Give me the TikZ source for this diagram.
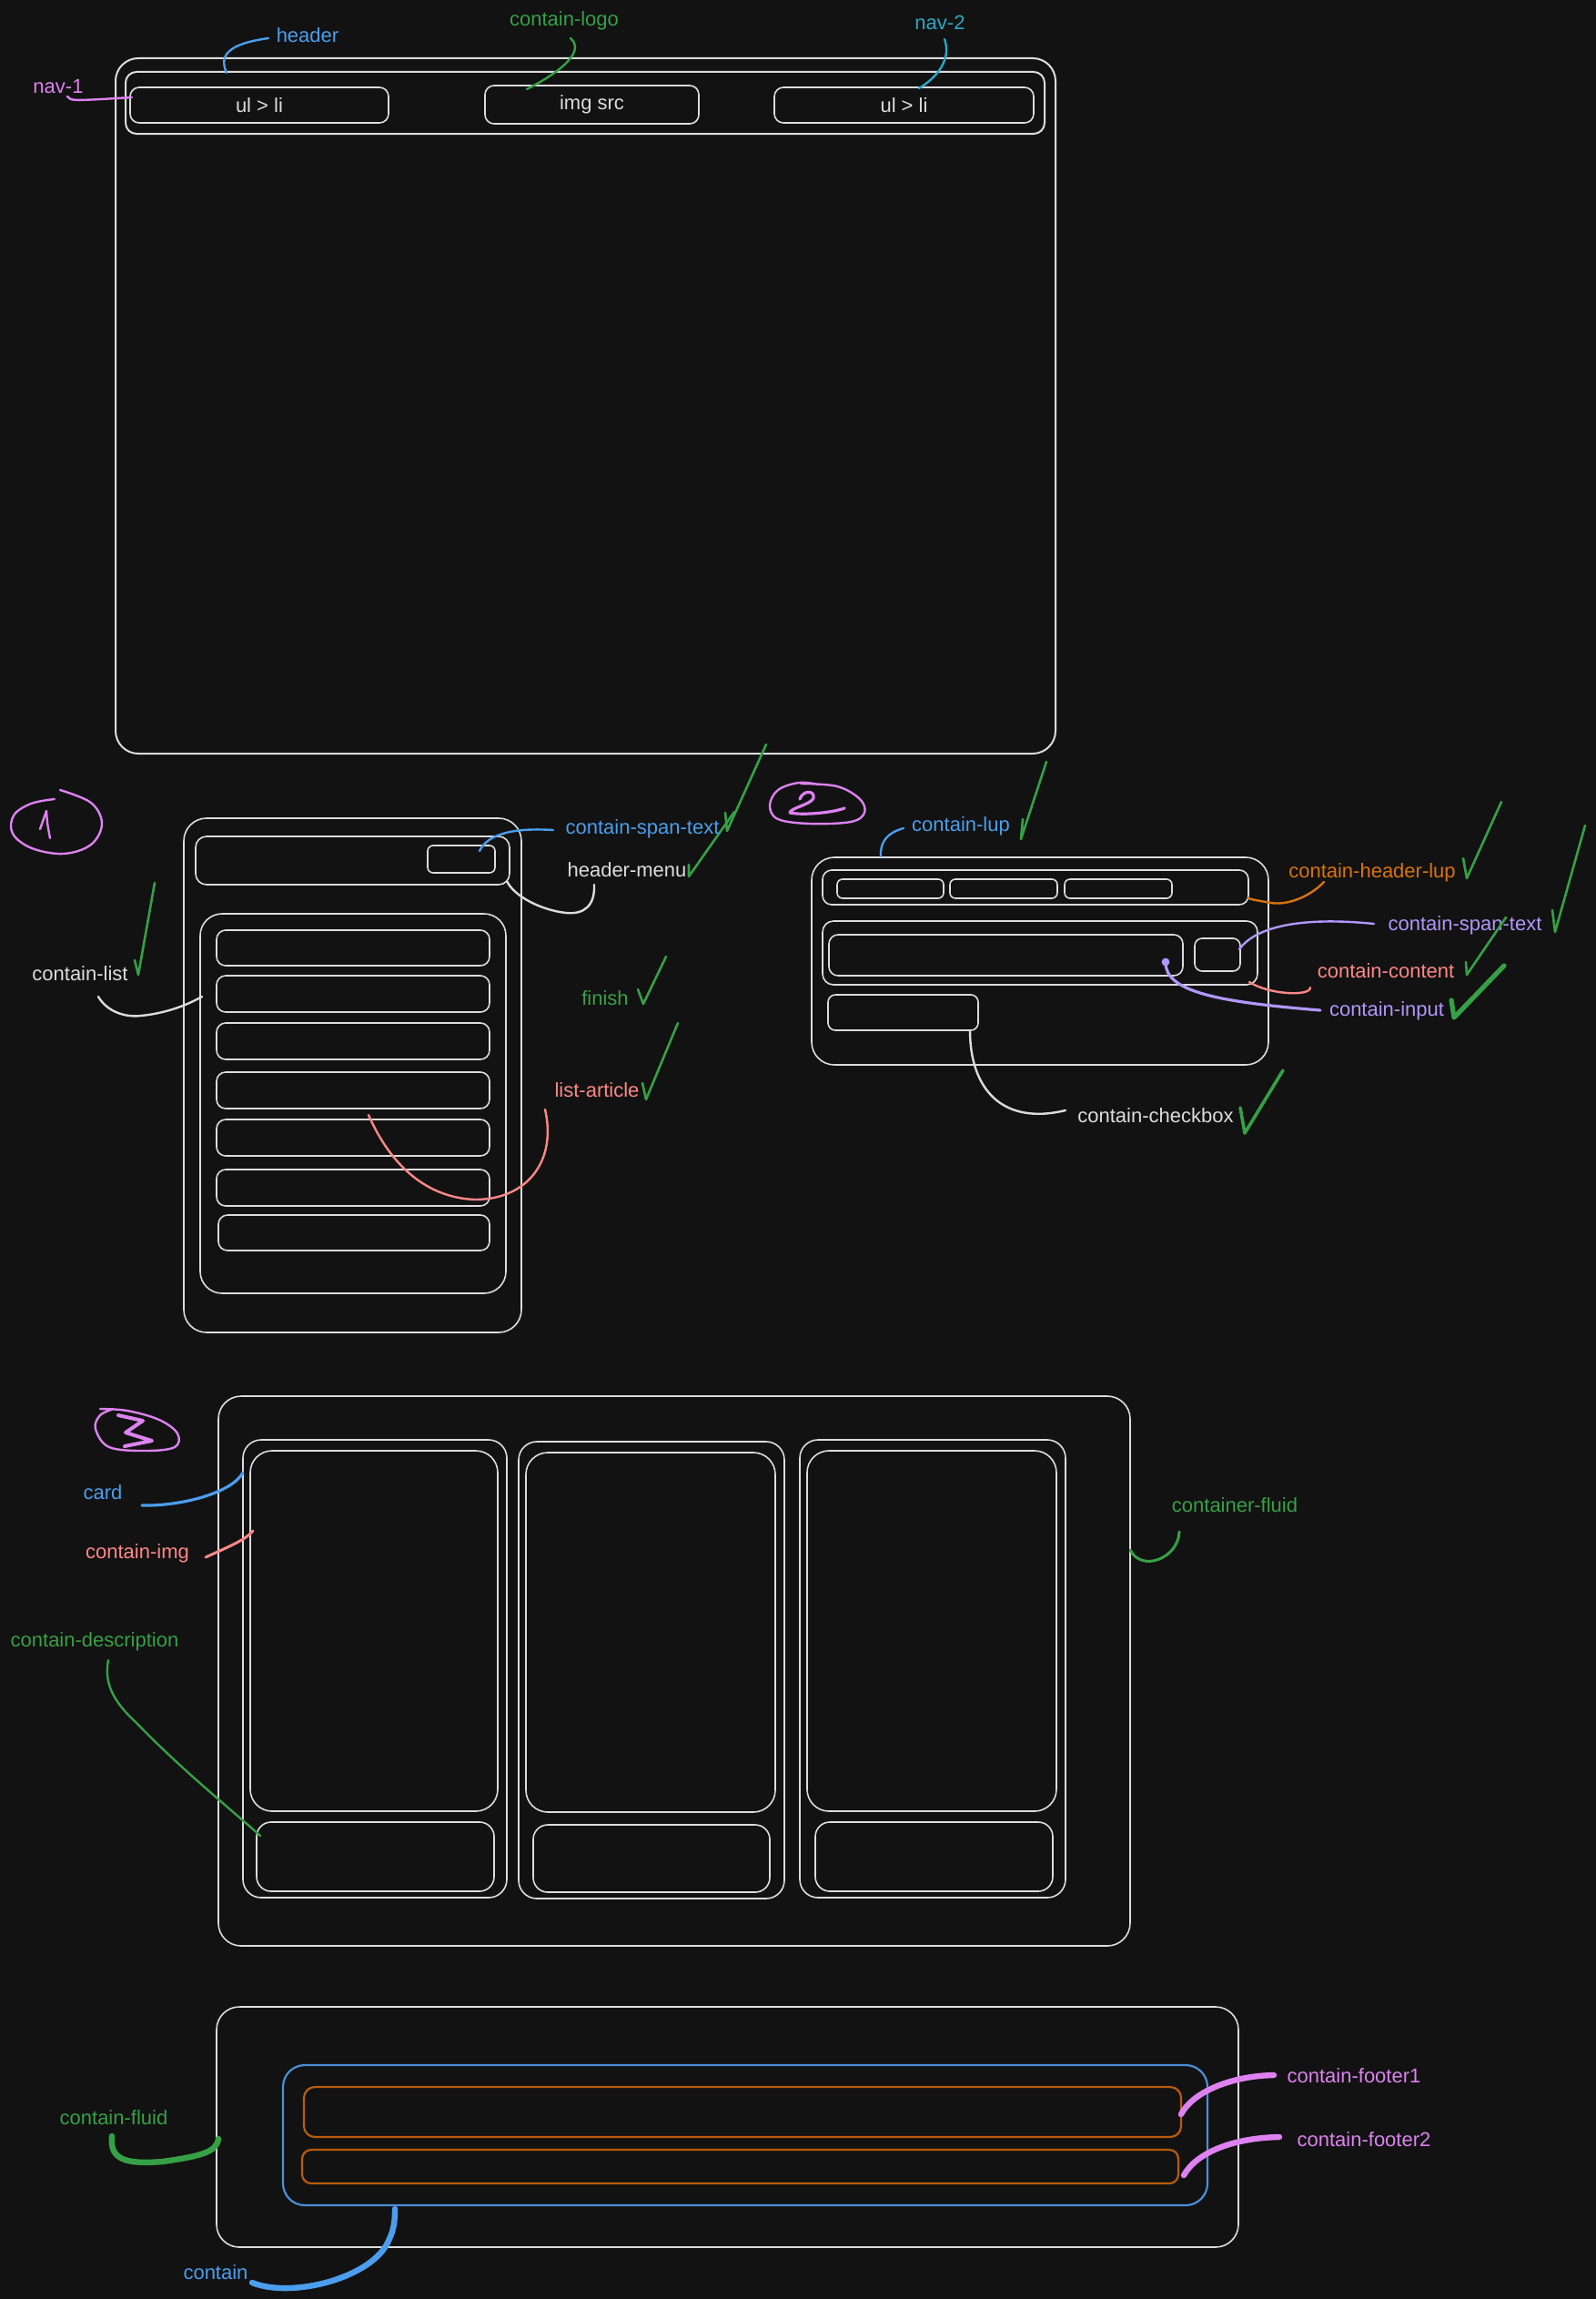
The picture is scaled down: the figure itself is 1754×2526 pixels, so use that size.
\documentclass[tikz,border=0pt]{standalone}
\usepackage{fontspec}
\setmainfont{Liberation Sans}
\usetikzlibrary{fit}
\definecolor{bgc}{HTML}{121212}
\definecolor{wl}{HTML}{DCDCDC}
\definecolor{cblue}{HTML}{4A9EED}
\definecolor{cbluebox}{HTML}{4A8FD6}
\definecolor{cgreen}{HTML}{36A046}
\definecolor{cpink}{HTML}{DD82F0}
\definecolor{cteal}{HTML}{2BA7C4}
\definecolor{csalmon}{HTML}{FF8787}
\definecolor{corange}{HTML}{D9730D}
\definecolor{corangebox}{HTML}{B85C0A}
\definecolor{cpurple}{HTML}{B197FC}
\begin{document}
\begin{tikzpicture}[x=0.5pt,y=-0.5pt,
  box/.style={draw=wl, line width=0.8pt, rounded corners=#1, inner sep=0pt},
  box/.default=5pt,
  intext/.style={text=wl, font=\fontsize{11}{13}\selectfont, inner sep=1pt},
  lbl/.style={font=\fontsize{11}{13}\selectfont, inner sep=1pt},
  conn/.style={line width=1.2pt, line cap=round, line join=round},
  thick conn/.style={line width=3.2pt, line cap=round, line join=round},
  chk/.style={draw=cgreen, line width=1.3pt, line cap=round, line join=round},
  numc/.style={draw=cpink, line width=1.2pt, line cap=round, line join=round}]
\fill[bgc] (0,0) rectangle (1754,2526);
\useasboundingbox (0,0) rectangle (1754,2526);

% ===== Section: header =====
\node[box=12.5pt, line width=1pt, fit={(127,64) (1160,828)}] (page) {};
\node[box=6pt, line width=1pt, fit={(138,79) (1148,147)}] (hdr) {};
\node[box=5pt, fit={(143,96) (427,135)}] (nav1) {};
\node[box=5pt, fit={(533,94) (768,136)}] (logo) {};
\node[box=5pt, fit={(851,96) (1136,135)}] (nav2) {};
\node[intext] (tnav1) at (nav1.center) {ul > li};
\node[intext] (tlogo) at (logo.center) {img src};
\node[intext] (tnav2) at (nav2.center) {ul > li};

\node[lbl, text=cblue] (Lheader) at (338,39) {header};
\node[lbl, text=cgreen] (Llogo) at (620,23) {contain-logo};
\node[lbl, text=cteal] (Lnav2) at (1033,25) {nav-2};
\node[lbl, text=cpink] (Lnav1) at (64,95) {nav-1};

\coordinate (a1) at (295,42); \coordinate (b1) at (249,80);
\draw[conn, cblue] (a1) .. controls (252,48) and (240,60) .. (b1);
\coordinate (a2) at (627,42); \coordinate (b2) at (579,98);
\draw[conn, cgreen] (a2) .. controls (642,55) and (622,76) .. (b2);
\coordinate (a3) at (1038,43); \coordinate (b3) at (1010,97);
\draw[conn, cteal] (a3) .. controls (1046,65) and (1030,85) .. (b3);
\coordinate (a4) at (74,106); \coordinate (b4) at (145,107);
\draw[conn, cpink] (a4) .. controls (78,111) .. (b4);

% checks near header
\draw[chk] (797,893) -- (799,913) -- (842,818);
\draw[chk] (757,950) -- (757,963) -- (807,892);

% ===== Section 1 =====
\draw[numc] plot[smooth, tension=0.6] coordinates {(60,878) (34,883) (15,896) (14,916) (35,932) (70,938) (100,928) (112,905) (100,882) (66,868)};
\draw[numc] (44,911) .. controls (47,901) .. (51,891) .. controls (52,905) .. (55,921);

\node[box=12.5pt, fit={(202,899) (573,1464)}] (phone) {};
\node[box=6pt, fit={(215,919) (560,972)}] (hmenu) {};
\node[box=3pt, fit={(470,929) (544,959)}] (span1) {};
\node[box=12pt, fit={(220,1004) (556,1421)}] (list) {};
\node[box=5pt, fit={(238,1022) (538,1061)}] (it1) {};
\node[box=5pt, fit={(238,1072) (538,1112)}] (it2) {};
\node[box=5pt, fit={(238,1124) (538,1164)}] (it3) {};
\node[box=5pt, fit={(238,1178) (538,1218)}] (it4) {};
\node[box=5pt, fit={(238,1230) (538,1270)}] (it5) {};
\node[box=5pt, fit={(238,1285) (538,1325)}] (it6) {};
\node[box=5pt, fit={(240,1335) (538,1374)}] (it7) {};

\node[lbl, text=cblue] (Lspan1) at (706,911) {contain-span-text};
\node[lbl, text=wl] (Lhmenu) at (689,956) {header-menu};
\node[lbl, text=wl] (Llist) at (88,1070) {contain-list};
\node[lbl, text=cgreen] (Lfinish) at (665,1097) {finish};
\node[lbl, text=csalmon] (Larticle) at (656,1198) {list-article};

\coordinate (a5) at (608,912); \coordinate (b5) at (527,935);
\draw[conn, cblue] (a5) .. controls (560,909) and (535,918) .. (b5);
\coordinate (a6) at (653,972); \coordinate (b6) at (557,968);
\draw[conn, wl] (a6) .. controls (654,995) and (642,1005) .. (622,1003) .. controls (595,1000) and (565,985) .. (b6);
\coordinate (a7) at (108,1095); \coordinate (b7) at (222,1095);
\draw[conn, wl] (a7) .. controls (118,1112) and (138,1118) .. (155,1116) .. controls (185,1113) and (208,1103) .. (b7);
\coordinate (a8) at (599,1219); \coordinate (b8) at (405,1225);
\draw[conn, csalmon] (a8) .. controls (612,1275) and (580,1318) .. (522,1318) .. controls (470,1316) and (430,1282) .. (b8);

\draw[chk] (148,1055) -- (152,1071) -- (170,970);
\draw[chk] (701,1087) -- (707,1103) -- (732,1051);
\draw[chk] (706,1190) -- (710,1208) -- (745,1124);

% ===== Section 2 =====
\draw[numc] plot[smooth, tension=0.6] coordinates {(880,861) (920,864) (945,878) (950,893) (935,903) (890,905) (855,900) (846,885) (855,868) (878,860) (900,862)};
\draw[numc, line width=1.6pt] (879,878) .. controls (882,868) and (896,868) .. (894,877) .. controls (891,884) and (868,888) .. (868,893) .. controls (882,896) and (915,893) .. (928,888);

\node[box=12.5pt, fit={(892,942) (1394,1170)}] (lup) {};
\node[box=5pt, fit={(904,956) (1372,994)}] (hlup) {};
\node[box=3pt, fit={(920,966) (1037,987)}] (ha) {};
\node[box=3pt, fit={(1044,966) (1162,987)}] (hb) {};
\node[box=3pt, fit={(1170,966) (1288,987)}] (hc) {};
\node[box=6pt, fit={(904,1012) (1382,1082)}] (content) {};
\node[box=5pt, fit={(911,1027) (1300,1072)}] (input) {};
\node[box=4pt, fit={(1313,1031) (1363,1067)}] (span2) {};
\node[box=4pt, fit={(910,1093) (1075,1132)}] (checkbox) {};

\node[lbl, text=cblue] (Llup) at (1056,908) {contain-lup};
\node[lbl, text=corange] (Lhlup) at (1508,959) {contain-header-lup};
\node[lbl, text=cpurple] (Lspan2) at (1610,1017) {contain-span-text};
\node[lbl, text=csalmon] (Lcontent) at (1523,1067) {contain-content};
\node[lbl, text=cpurple] (Linput) at (1524,1111) {contain-input};
\node[lbl, text=wl] (Lcheckbox) at (1270,1226) {contain-checkbox};

\coordinate (a9) at (993,910); \coordinate (b9) at (968,941);
\draw[conn, cblue] (a9) .. controls (975,915) and (967,925) .. (b9);
\coordinate (a10) at (1455,969); \coordinate (b10) at (1372,987);
\draw[conn, corange] (a10) .. controls (1440,985) and (1415,995) .. (1397,992) .. controls (1386,990) and (1378,989) .. (b10);
\coordinate (a11) at (1510,1015); \coordinate (b11) at (1362,1043);
\draw[conn, cpurple] (a11) .. controls (1430,1007) and (1380,1018) .. (b11);
\coordinate (a12) at (1440,1085); \coordinate (b12) at (1373,1079);
\draw[conn, csalmon] (a12) .. controls (1440,1095) and (1395,1093) .. (b12);
\coordinate (a13) at (1451,1110); \coordinate (b13) at (1281,1057);
\draw[conn, cpurple, line width=1.6pt] (a13) .. controls (1340,1101) and (1280,1090) .. (b13);
\fill[cpurple] (b13) circle[radius=2.2pt];
\coordinate (a14) at (1171,1220); \coordinate (b14) at (1066,1132);
\draw[conn, wl] (a14) .. controls (1100,1237) and (1066,1195) .. (b14);

\draw[chk] (1124,900) -- (1122,922) -- (1150,837);
\draw[chk] (1608,943) -- (1612,965) -- (1650,881);
\draw[chk] (1706,1000) -- (1709,1024) -- (1742,907);
\draw[chk] (1611,1057) -- (1612,1071) -- (1655,1008);
\draw[chk, line width=2.6pt] (1595,1099) -- (1598,1118) -- (1653,1061);
\draw[chk, line width=1.8pt] (1363,1217) -- (1368,1245) -- (1410,1176);

% ===== Section 3 =====
\draw[numc] plot[smooth, tension=0.6] coordinates {(110,1548) (140,1550) (175,1560) (195,1575) (192,1590) (160,1594) (120,1590) (105,1570) (110,1555) (125,1548)};
\draw[numc, line width=2pt] (130,1555) -- (157,1561) -- (138,1574) -- (167,1583) -- (137,1589);

\node[box=12.5pt, fit={(240,1534) (1242,2138)}] (fluid) {};
\node[box=10pt, fit={(267,1582) (557,2085)}] (card1) {};
\node[box=10pt, fit={(570,1584) (862,2086)}] (card2) {};
\node[box=10pt, fit={(879,1582) (1171,2085)}] (card3) {};
\node[box=12pt, fit={(275,1594) (547,1990)}] (img1) {};
\node[box=12pt, fit={(578,1596) (852,1991)}] (img2) {};
\node[box=12pt, fit={(887,1594) (1161,1990)}] (img3) {};
\node[box=8pt, fit={(282,2002) (543,2078)}] (desc1) {};
\node[box=8pt, fit={(586,2005) (846,2079)}] (desc2) {};
\node[box=8pt, fit={(896,2002) (1157,2078)}] (desc3) {};

\node[lbl, text=cblue] (Lcard) at (113,1640) {card};
\node[lbl, text=csalmon] (Limg) at (151,1707) {contain-img};
\node[lbl, text=cgreen] (Ldesc) at (104,1804) {contain-description};
\node[lbl, text=cgreen] (Lfluid) at (1357,1654) {container-fluid};

\coordinate (a15) at (156,1654); \coordinate (b15) at (267,1618);
\draw[conn, cblue, line width=1.6pt] (a15) .. controls (200,1655) and (255,1640) .. (b15);
\coordinate (a16) at (226,1711); \coordinate (b16) at (278,1682);
\draw[conn, csalmon, line width=1.5pt] (a16) .. controls (250,1700) and (270,1692) .. (b16);
\coordinate (a17) at (119,1824); \coordinate (b17) at (286,2017);
\draw[conn, cgreen] (a17) .. controls (114,1850) and (125,1870) .. (150,1893) .. controls (200,1945) and (262,1995) .. (b17);
\coordinate (a18) at (1296,1683); \coordinate (b18) at (1242,1703);
\draw[conn, cgreen, line width=1.5pt] (a18) .. controls (1295,1712) and (1255,1728) .. (b18);

% ===== Section 4 =====
\node[box=12.5pt, fit={(238,2205) (1361,2469)}] (ffluid) {};
\node[box=12pt, draw=cbluebox, line width=1.1pt, fit={(311,2269) (1327,2423)}] (fcontain) {};
\node[box=6pt, draw=corangebox, line width=1.1pt, fit={(334,2293) (1298,2348)}] (footer1) {};
\node[box=5pt, draw=corangebox, line width=1.1pt, fit={(332,2362) (1295,2399)}] (footer2) {};

\node[lbl, text=cgreen] (Lffluid) at (125,2327) {contain-fluid};
\node[lbl, text=cblue] (Lcontain) at (237,2497) {contain};
\node[lbl, text=cpink] (Lf1) at (1488,2281) {contain-footer1};
\node[lbl, text=cpink] (Lf2) at (1499,2351) {contain-footer2};

\coordinate (a19) at (123,2347); \coordinate (b19) at (240,2350);
\draw[thick conn, cgreen] (a19) .. controls (120,2374) and (140,2378) .. (179,2375) .. controls (220,2369) and (238,2365) .. (b19);
\coordinate (a20) at (277,2508); \coordinate (b20) at (434,2427);
\draw[thick conn, cblue] (a20) .. controls (322,2526) and (410,2502) .. (427,2462) .. controls (433,2450) and (434,2440) .. (b20);
\coordinate (a21) at (1400,2280); \coordinate (b21) at (1298,2323);
\draw[thick conn, cpink] (a21) .. controls (1350,2281) and (1310,2300) .. (b21);
\coordinate (a22) at (1406,2348); \coordinate (b22) at (1301,2390);
\draw[thick conn, cpink] (a22) .. controls (1355,2349) and (1315,2365) .. (b22);
\end{tikzpicture}
\end{document}
